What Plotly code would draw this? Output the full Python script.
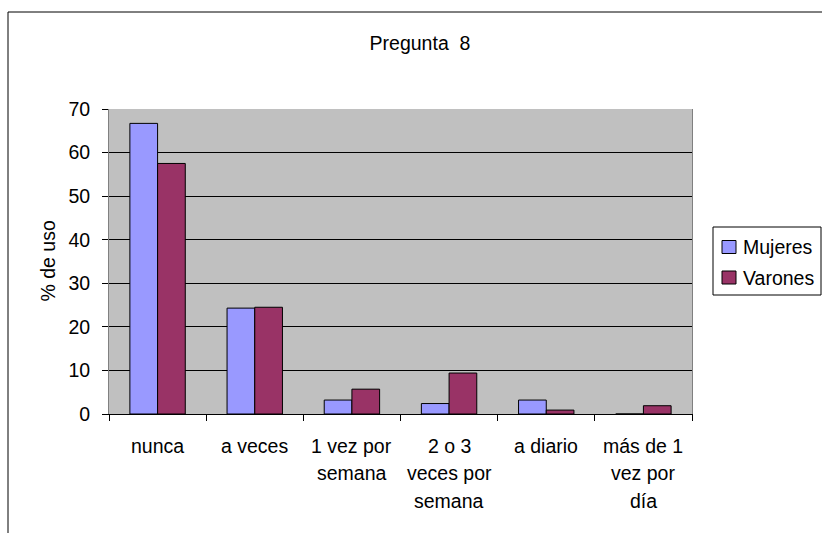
import plotly.graph_objects as go

categories = ["nunca", "a veces", "1 vez por semana", "2 o 3 veces por semana", "a diario", "más de 1 vez por día"]
label_lines = [["nunca"], ["a veces"], ["1 vez por", "semana"], ["2 o 3", "veces por", "semana"], ["a diario"], ["más de 1", "vez por", "día"]]
mujeres = [66.7, 24.3, 3.2, 2.4, 3.2, 0]
varones = [57.5, 24.5, 5.7, 9.4, 0.9, 1.9]
y_ticks = [0, 10, 20, 30, 40, 50, 60, 70]
series_names = ["Mujeres", "Varones"]
series_colors = ["#9999FF", "#993366"]

FONT = "Liberation Sans, Arial, sans-serif"
FS = 19.5

# plot-area geometry (pixels) used to convert legend/frame pixel positions to paper units
L, R, T, B = 109, 692, 109, 414
def px(xp):
    return (xp - L) / (R - L)
def py(yp):
    return (B - yp) / (B - T)

fig = go.Figure()
for name, vals, col in zip(series_names, [mujeres, varones], series_colors):
    fig.add_trace(go.Bar(name=name, x=categories, y=vals, showlegend=False,
                         marker=dict(color=col, line=dict(color="black", width=1))))

annotations = []
for cat, lines in zip(categories, label_lines):
    for i, ln in enumerate(lines):
        annotations.append(dict(x=cat, xref="x", y=0, yref="paper", text=ln, showarrow=False,
                                xanchor="center", yanchor="middle", yshift=-32 - 27.3 * i,
                                font=dict(size=FS, color="black", family=FONT)))
annotations.append(dict(x=0, xref="paper", y=0.5, yref="paper", text="% de uso", showarrow=False,
                        textangle=-90, xanchor="center", yanchor="middle", xshift=-62,
                        font=dict(size=FS, color="black", family=FONT)))

shapes = [dict(type="rect", xref="paper", yref="paper", x0=px(8), x1=px(835),
               y0=py(545), y1=py(12), line=dict(color="black", width=1), layer="below")]

# legend (drawn manually to match the original box placement)
shapes.append(dict(type="rect", xref="paper", yref="paper", x0=px(713), x1=px(821),
                   y0=py(295), y1=py(227), line=dict(color="black", width=1),
                   fillcolor="white", layer="above"))
item_y = [247, 277.5]
for name, col, yc in zip(series_names, series_colors, item_y):
    shapes.append(dict(type="rect", xref="paper", yref="paper", x0=px(722), x1=px(736),
                       y0=py(yc + 6.5), y1=py(yc - 6.5), line=dict(color="black", width=1),
                       fillcolor=col, layer="above"))
    annotations.append(dict(x=px(741), xref="paper", y=py(yc), yref="paper", text=name,
                            showarrow=False, xanchor="left", yanchor="middle",
                            font=dict(size=FS, color="black", family=FONT)))

fig.update_layout(
    width=822, height=533,
    margin=dict(l=L, r=822 - R, t=T, b=533 - B, pad=0),
    paper_bgcolor="white", plot_bgcolor="#C0C0C0",
    barmode="group", bargap=0.43, bargroupgap=0,
    font=dict(family=FONT, size=FS, color="black"),
    title=dict(text="Pregunta\u00a0\u00a08", x=420 / 822, xanchor="center", xref="container",
               y=1 - 43 / 533, yref="container", yanchor="middle",
               font=dict(size=FS, family=FONT, color="black")),
    showlegend=False,
    annotations=annotations,
    shapes=shapes,
)
fig.update_xaxes(type="category", showticklabels=False, ticks="outside", tickson="boundaries",
                 ticklen=6, tickcolor="black", showline=True, linecolor="black", linewidth=1,
                 showgrid=False)
fig.update_yaxes(range=[0, 70], tickvals=y_ticks, ticks="outside", ticklen=6, tickcolor="black",
                 showline=True, linecolor="#808080", linewidth=1, mirror=True,
                 showgrid=True, gridcolor="black", gridwidth=1, zeroline=False,
                 ticklabelstandoff=8, tickfont=dict(size=FS, family=FONT, color="black"))

fig.write_html("out.html", config={"displayModeBar": False},
               post_script="document.body.style.margin='0';document.body.style.overflow='hidden';")
